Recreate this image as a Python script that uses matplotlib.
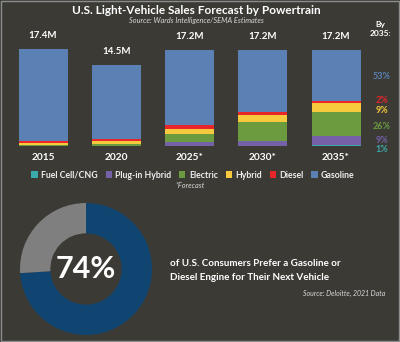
import numpy as np
import matplotlib.pyplot as plt
from matplotlib.patches import Patch, Rectangle

plt.rcParams['font.family'] = ['Lato', 'DejaVu Sans']

# datos
years = ['2015', '2020', '2025*', '2030*', '2035*']
totals = [17.4, 14.5, 17.2, 17.2, 17.2]
total_labels = ['17.4M', '14.5M', '17.2M', '17.2M', '17.2M']

# participacion por tren motriz (%)
fuel_cell = [0.1, 0.1, 0.3, 0.5, 1]
plug_in = [0.2, 0.5, 3.8, 5, 9]
electric = [0.6, 1.8, 8, 19.5, 26]
hybrid = [2.0, 3.5, 5.5, 7.5, 9]
diesel = [2.2, 2.5, 3.8, 3, 2]
gasoline = [94.9, 91.6, 78.6, 64.5, 53]

series_names = ['Fuel Cell/CNG', 'Plug-in Hybrid', 'Electric', 'Hybrid', 'Diesel', 'Gasoline']
series_vals = [fuel_cell, plug_in, electric, hybrid, diesel, gasoline]
colors = ['#3aa9a9', '#7461a8', '#6b9a3f', '#f7c93c', '#e8262a', '#5b80b4']

donut_vals = [74, 26]
donut_colors = ['#104471', '#7f7f7f']

bg = '#3b3a35'
W, H = 400, 342

fig = plt.figure(figsize=(4, 3.42), dpi=100, facecolor=bg)

# ejes de barras
ax = fig.add_axes([0, (H - 146) / H, 1, 146 / H])
ax.set_facecolor('none')
step = 73.25
ax.set_xlim(-43 / step, (W - 43) / step)
ax.set_ylim(0, 146 / 5.57)
x = np.arange(len(years))
bottom = np.zeros(len(years))
for name, vals, c in zip(series_names, series_vals, colors):
    h = np.array(totals) * np.array(vals) / 100
    ax.bar(x, h, width=49 / step, bottom=bottom, color=c, label=name)
    bottom += h

for xi, t, lab in zip(x, totals, total_labels):
    ax.annotate(lab, (xi, t), xytext=(0, 6.5), textcoords='offset points',
                ha='center', va='bottom', color='white', fontsize=7, fontweight='bold')

ax.set_xticks(x, years)
ax.tick_params(axis='x', length=0, pad=5, colors='white', labelsize=7.3)
for lbl in ax.get_xticklabels():
    lbl.set_fontweight('bold')
ax.set_yticks([])
for s in ax.spines.values():
    s.set_visible(False)

# porcentajes 2035 a la derecha
last = len(years) - 1
nudges = [-3, 0, -1.5, -2.5, 1.2, -1]
cum = 0
for vals, c, dy in zip(series_vals, colors, nudges):
    v = vals[last]
    mid = totals[last] * (cum + v / 2) / 100
    cum += v
    ax.annotate(f'{v:g}%', (last + (382 - 336) / step, mid), xytext=(0, dy),
                textcoords='offset points', ha='center', va='center',
                color=c, fontsize=6.5, fontweight='bold')

fig.text(380 / W, 1 - 24 / H, 'By', ha='center', va='center', color='white',
         fontsize=6, fontweight='bold')
fig.text(380 / W, 1 - 34 / H, '2035:', ha='center', va='center', color='white',
         fontsize=6, fontweight='bold')

fig.text(196 / W, 1 - 10 / H, 'U.S. Light-Vehicle Sales Forecast by Powertrain',
         ha='center', va='center', color='white', fontsize=8.5, fontweight='bold')
fig.text(196 / W, 1 - 21 / H, 'Source: Wards Intelligence/SEMA Estimates',
         ha='center', va='center', color='#d8d8d8', fontsize=5.3, style='italic')

# leyenda
handles = [Patch(facecolor=c, label=n) for n, c in zip(series_names, colors)]
leg = fig.legend(handles=handles, loc='center', bbox_to_anchor=(193 / W, 1 - 175 / H),
                 ncol=6, frameon=False, fontsize=6.3, handlelength=0.7, handleheight=0.7,
                 handletextpad=0.4, columnspacing=0.9, labelcolor='#eeeeee')
for t in leg.get_texts():
    t.set_fontweight('bold')
fig.text(190 / W, 1 - 185 / H, '*Forecast', ha='center', va='center',
         color='#d8d8d8', fontsize=5.3, style='italic')

# dona
r = 66
ax2 = fig.add_axes([(86 - r) / W, (H - 269 - r) / H, 2 * r / W, 2 * r / H])
ax2.pie(donut_vals, colors=donut_colors, startangle=90, counterclock=False,
        radius=1, wedgeprops=dict(width=0.46, edgecolor='none'))
ax2.set_xlim(-1, 1)
ax2.set_ylim(-1, 1)
ax2.text(0, 0, f'{donut_vals[0]}%', ha='center', va='center', color='white',
         fontsize=22, fontweight='bold')

fig.text(170 / W, 1 - 263 / H, 'of U.S. Consumers Prefer a Gasoline or',
         ha='left', va='center', color='white', fontsize=7.1, fontweight='bold')
fig.text(170 / W, 1 - 277 / H, 'Diesel Engine for Their Next Vehicle',
         ha='left', va='center', color='white', fontsize=7.1, fontweight='bold')
fig.text(385 / W, 1 - 293 / H, 'Source: Deloitte, 2021 Data',
         ha='right', va='center', color='#d8d8d8', fontsize=5, style='italic')

# borde
fig.patches.append(Rectangle((0.002, 0.002), 0.996, 0.996, transform=fig.transFigure,
                             fill=False, edgecolor='#8c8c8c', lw=1))

fig.savefig('out.png', dpi=100, facecolor=bg)
